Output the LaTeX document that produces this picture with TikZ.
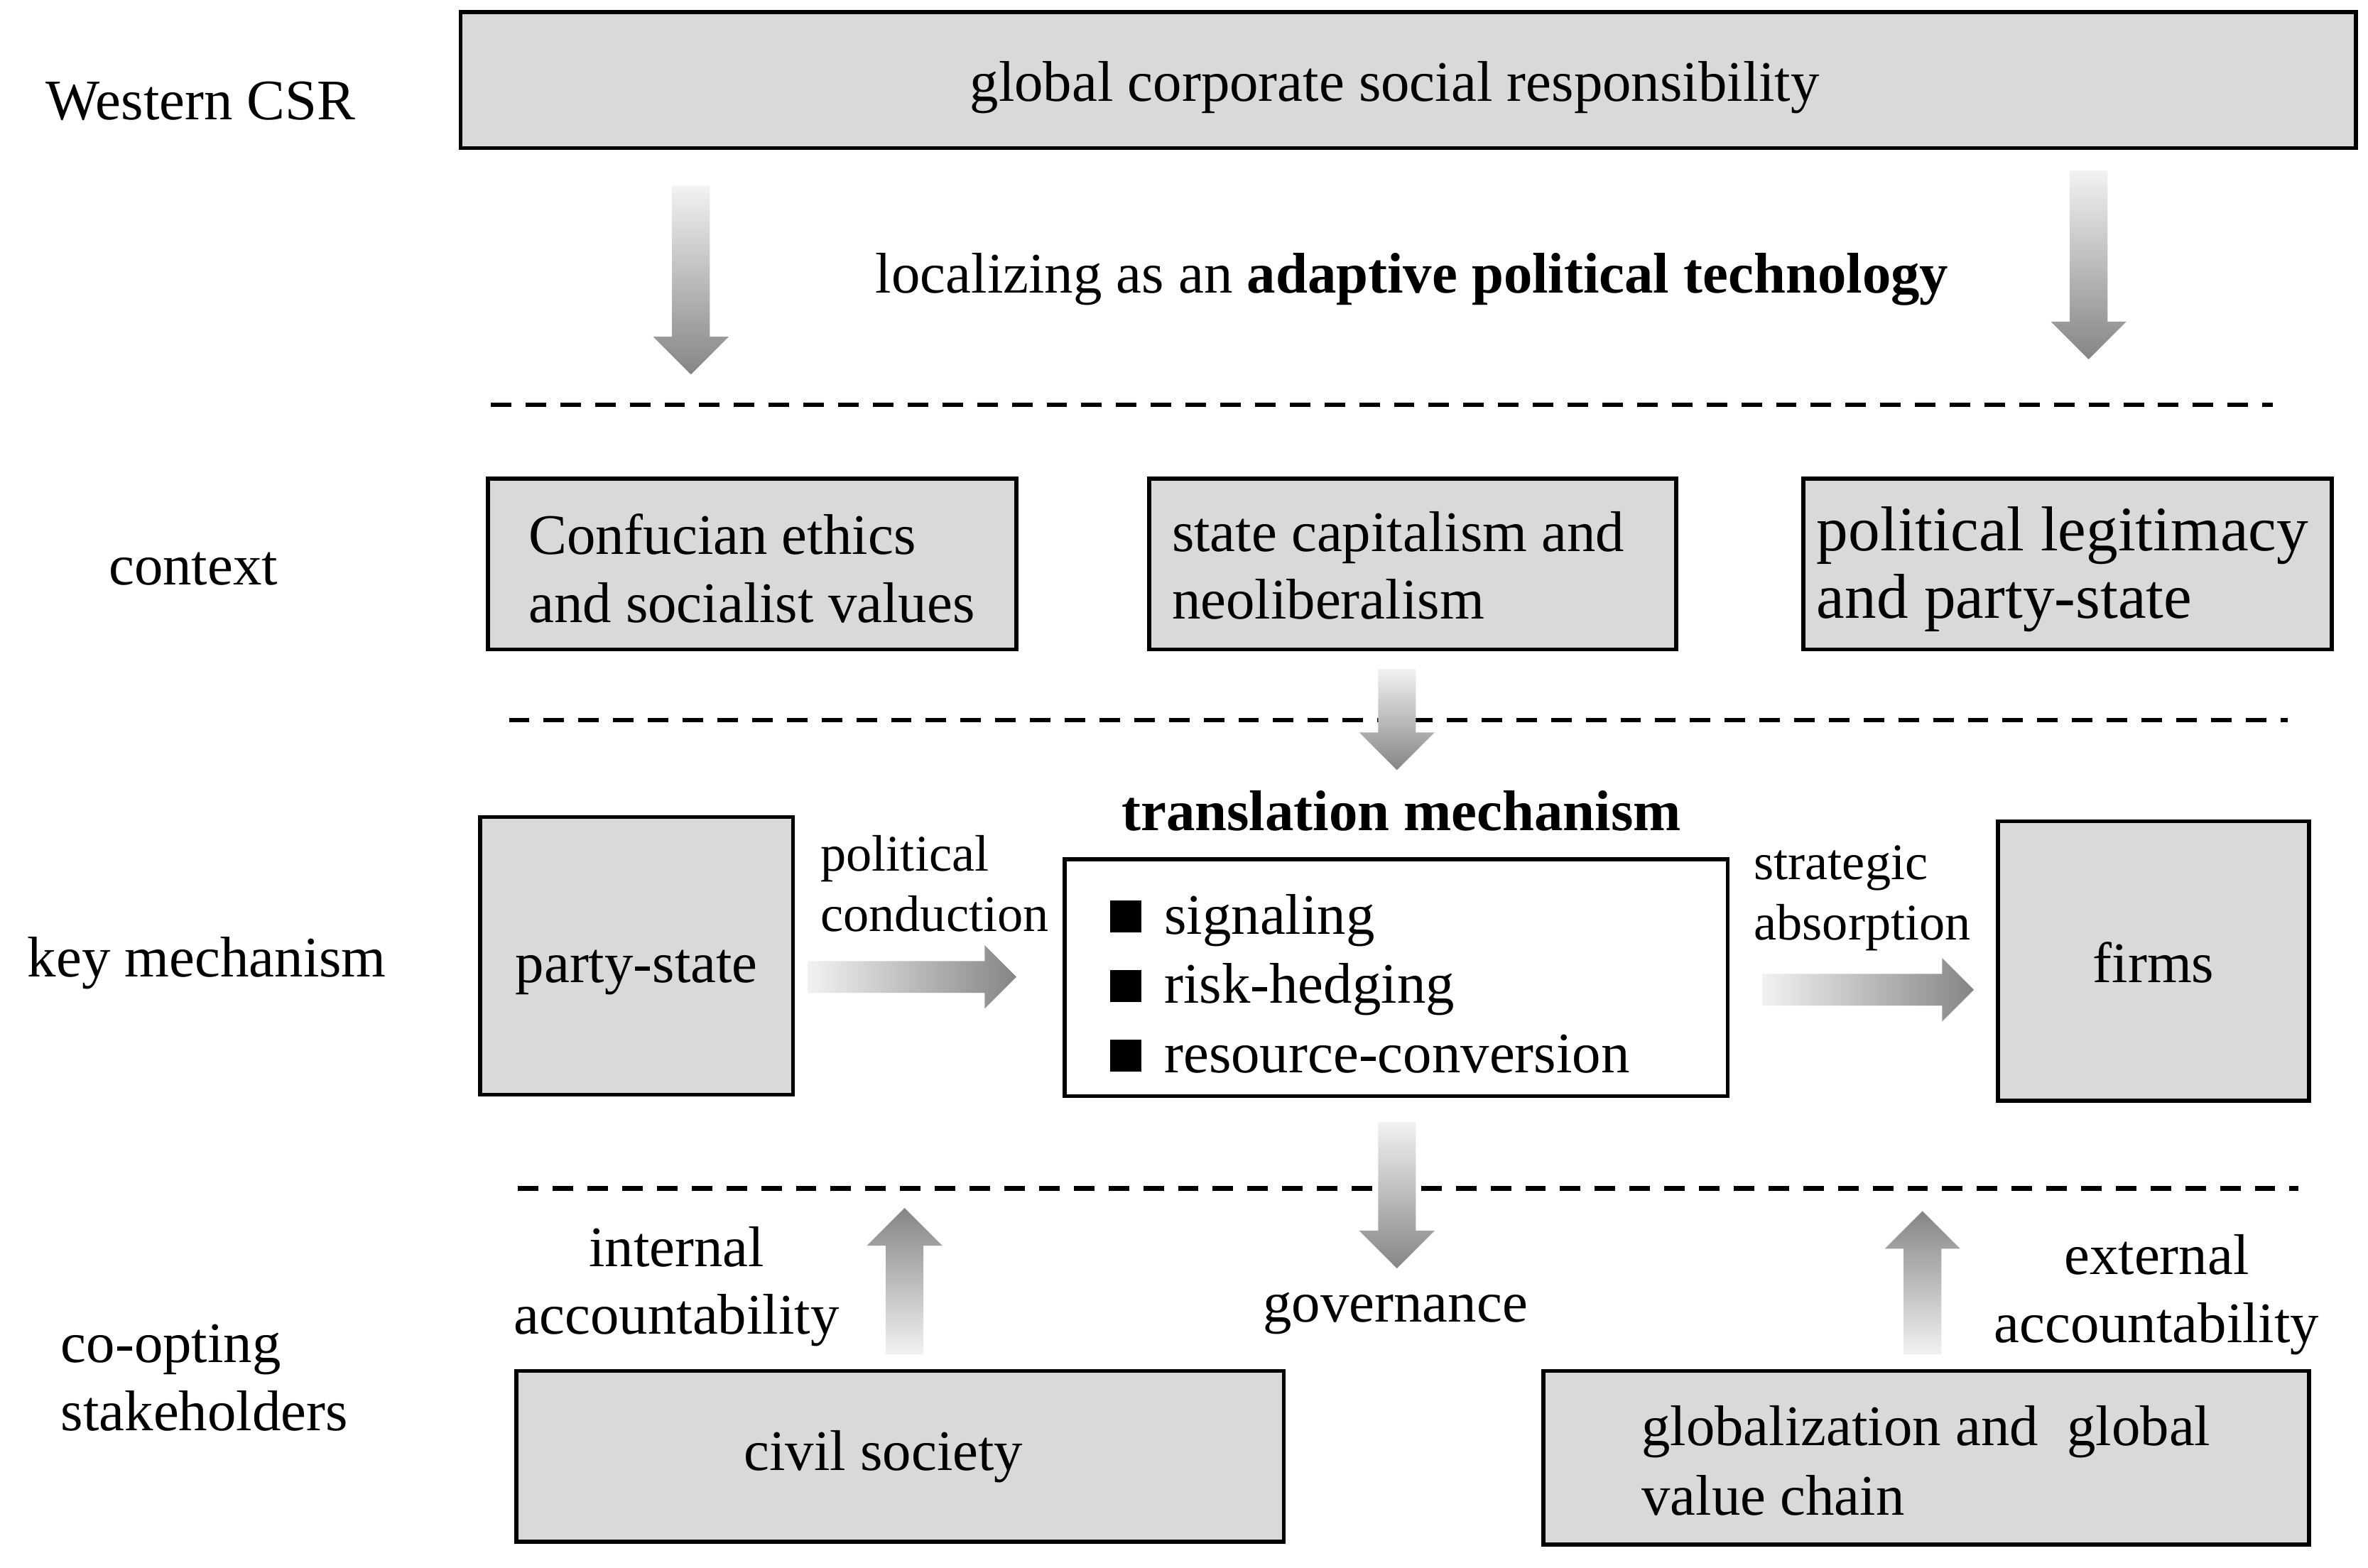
\documentclass[tikz,border=0pt]{standalone}
\usepackage{fontspec}
\setmainfont{Liberation Serif}
\usetikzlibrary{calc}
\definecolor{boxgray}{HTML}{D9D9D9}
\definecolor{arlight}{HTML}{F2F2F2}
\definecolor{ardark}{HTML}{858585}
\newcommand\figfont{\fontsize{19}{22.5}\selectfont}
\newcommand\smallfig{\fontsize{17}{20}\selectfont}
\newcommand\bigfig{\fontsize{21}{22.5}\selectfont}
\newcommand\lowered[2]{\raisebox{-#1}[\height][\depth]{#2}}
% #1 lowering, #2 left pad, #3 paragraph width, #4 text
\newcommand\boxtext[4]{\raisebox{-#1}[\height][\depth]{\kern#2\parbox{#3}{\raggedright\hyphenpenalty10000\exhyphenpenalty10000 #4}}}
% block arrows (shaft half width, head half width, head length)
\def\vsw{6.25pt}\def\vhw{12.5pt}\def\vhl{12.5pt}
\def\hsw{5.25pt}\def\hhw{10.5pt}\def\hhl{10.5pt}
\newcommand\arrdown[2]{\path[top color=arlight,bottom color=ardark] let \p1=(#1),\p2=(#2) in
  (\x1-\vsw,\y1) -- (\x1+\vsw,\y1) -- (\x1+\vsw,\y2+\vhl) -- (\x1+\vhw,\y2+\vhl) -- (\x1,\y2)
  -- (\x1-\vhw,\y2+\vhl) -- (\x1-\vsw,\y2+\vhl) -- cycle;}
\newcommand\arrup[2]{\path[bottom color=arlight,top color=ardark] let \p1=(#1),\p2=(#2) in
  (\x1-\vsw,\y1) -- (\x1+\vsw,\y1) -- (\x1+\vsw,\y2-\vhl) -- (\x1+\vhw,\y2-\vhl) -- (\x1,\y2)
  -- (\x1-\vhw,\y2-\vhl) -- (\x1-\vsw,\y2-\vhl) -- cycle;}
\newcommand\arrright[2]{\path[left color=arlight,right color=ardark] let \p1=(#1),\p2=(#2) in
  (\x1,\y1-\hsw) -- (\x1,\y1+\hsw) -- (\x2-\hhl,\y1+\hsw) -- (\x2-\hhl,\y1+\hhw) -- (\x2,\y1)
  -- (\x2-\hhl,\y1-\hhw) -- (\x2-\hhl,\y1-\hsw) -- cycle;}
\newcommand\sqbullet{\rule[0.5pt]{10.5pt}{10.5pt}\hspace{7.5pt}}
\begin{document}
\begin{tikzpicture}[x=0.5pt,y=-0.5pt,font=\figfont,
  graybox/.style={rectangle,draw=black,line width=1.3pt,fill=boxgray,inner sep=0pt},
  whitebox/.style={rectangle,draw=black,line width=1.3pt,fill=white,inner sep=0pt},
  dashline/.style={line width=1.5pt,dash pattern=on 6.8pt off 4.7pt},
  lbl/.style={inner sep=0pt}]
\useasboundingbox (0,0) rectangle (1568,1038);

% dashed separators
\coordinate (d1a) at (325,268); \coordinate (d1b) at (1505,268);
\coordinate (d2a) at (337,477); \coordinate (d2b) at (1515,477);
\coordinate (d3a) at (343,787); \coordinate (d3b) at (1522,787);
\draw[dashline] (d1a) -- (d1b);
\draw[dashline] (d2a) -- (d2b);
\draw[dashline] (d3a) -- (d3b);

% row labels
\node[lbl] (western) at (133,67) {Western CSR};
\node[lbl] (ctx) at (128,377) {context};
\node[lbl] (keym) at (137,638) {key mechanism};
\node[lbl,anchor=west,align=left] (coopt) at (40,912.5) {co-opting\\stakeholders};

% top box
\node[graybox,minimum width=627.5pt,minimum height=45pt] (top) at (932.5,53) {\lowered{2.5pt}{global corporate social responsibility}\kern9pt};
\node[lbl] (local) at (935,185) {localizing as an \textbf{adaptive political technology}};

% context boxes
\node[graybox,minimum width=175pt,minimum height=56.5pt] (conf) at (498,373.5)
  {\boxtext{1.5pt}{13.5pt}{161.5pt}{Confucian ethics\\and socialist values}};
\node[graybox,minimum width=174.5pt,minimum height=56.5pt] (stcap) at (935.5,373.5)
  {\boxtext{0.5pt}{7.5pt}{167pt}{state capitalism and\\neoliberalism}};
\node[graybox,minimum width=175pt,minimum height=56.5pt,font=\bigfig] (legit) at (1369,373.5)
  {\boxtext{1.75pt}{4.5pt}{170.5pt}{political legitimacy\\and party-state}};

% key mechanism row
\node[graybox,minimum width=103.5pt,minimum height=92pt] (party) at (421.5,633) {\lowered{5.5pt}{party-state}};
\node[graybox,minimum width=103pt,minimum height=92.5pt] (firms) at (1426,636.5) {\lowered{0.5pt}{firms}};
\node[lbl,font=\figfont\bfseries] (title) at (928,537) {translation mechanism};
\node[whitebox,minimum width=219.5pt,minimum height=78.5pt,font=\fontsize{19}{23}\selectfont] (mech) at (924.5,647.5)
  {\boxtext{2pt}{15pt}{204.5pt}{\sqbullet signaling\\\sqbullet risk-hedging\\\sqbullet resource-conversion}};
\node[lbl,anchor=west,align=left,font=\smallfig] (polc) at (543,585) {political\\conduction};
\node[lbl,anchor=west,align=left,font=\smallfig] (strat) at (1161,595) {strategic\\absorption};

% stakeholders row
\node[lbl] (gov) at (924,870) {governance};
\node[lbl,align=center] (intacc) at (448,852) {internal\\accountability};
\node[lbl,align=center] (extacc) at (1428,857.5) {external\\accountability};
\node[graybox,minimum width=254pt,minimum height=56.5pt] (civil) at (596,964.5) {civil society\kern11pt};
\node[graybox,minimum width=253.5pt,minimum height=57.5pt,font=\fontsize{19}{23}\selectfont] (glob) at (1275.5,965.5)
  {\boxtext{1pt}{32.5pt}{221pt}{globalization and \ global\\value chain}};

% block arrows
\coordinate (a1t) at (457.5,123);  \coordinate (a1h) at (457.5,248);
\coordinate (a2t) at (1383,113);   \coordinate (a2h) at (1383,238);
\coordinate (a3t) at (925,443);    \coordinate (a3h) at (925,510);
\coordinate (a4t) at (925,743);    \coordinate (a4h) at (925,840);
\coordinate (a5t) at (599,897);    \coordinate (a5h) at (599,800);
\coordinate (a6t) at (1273,897);   \coordinate (a6h) at (1273,802);
\coordinate (a7t) at (535,647);    \coordinate (a7h) at (673,647);
\coordinate (a8t) at (1167,655.5); \coordinate (a8h) at (1307,655.5);
\arrdown{a1t}{a1h}
\arrdown{a2t}{a2h}
\arrdown{a3t}{a3h}
\arrdown{a4t}{a4h}
\arrup{a5t}{a5h}
\arrup{a6t}{a6h}
\arrright{a7t}{a7h}
\arrright{a8t}{a8h}
\end{tikzpicture}
\end{document}
